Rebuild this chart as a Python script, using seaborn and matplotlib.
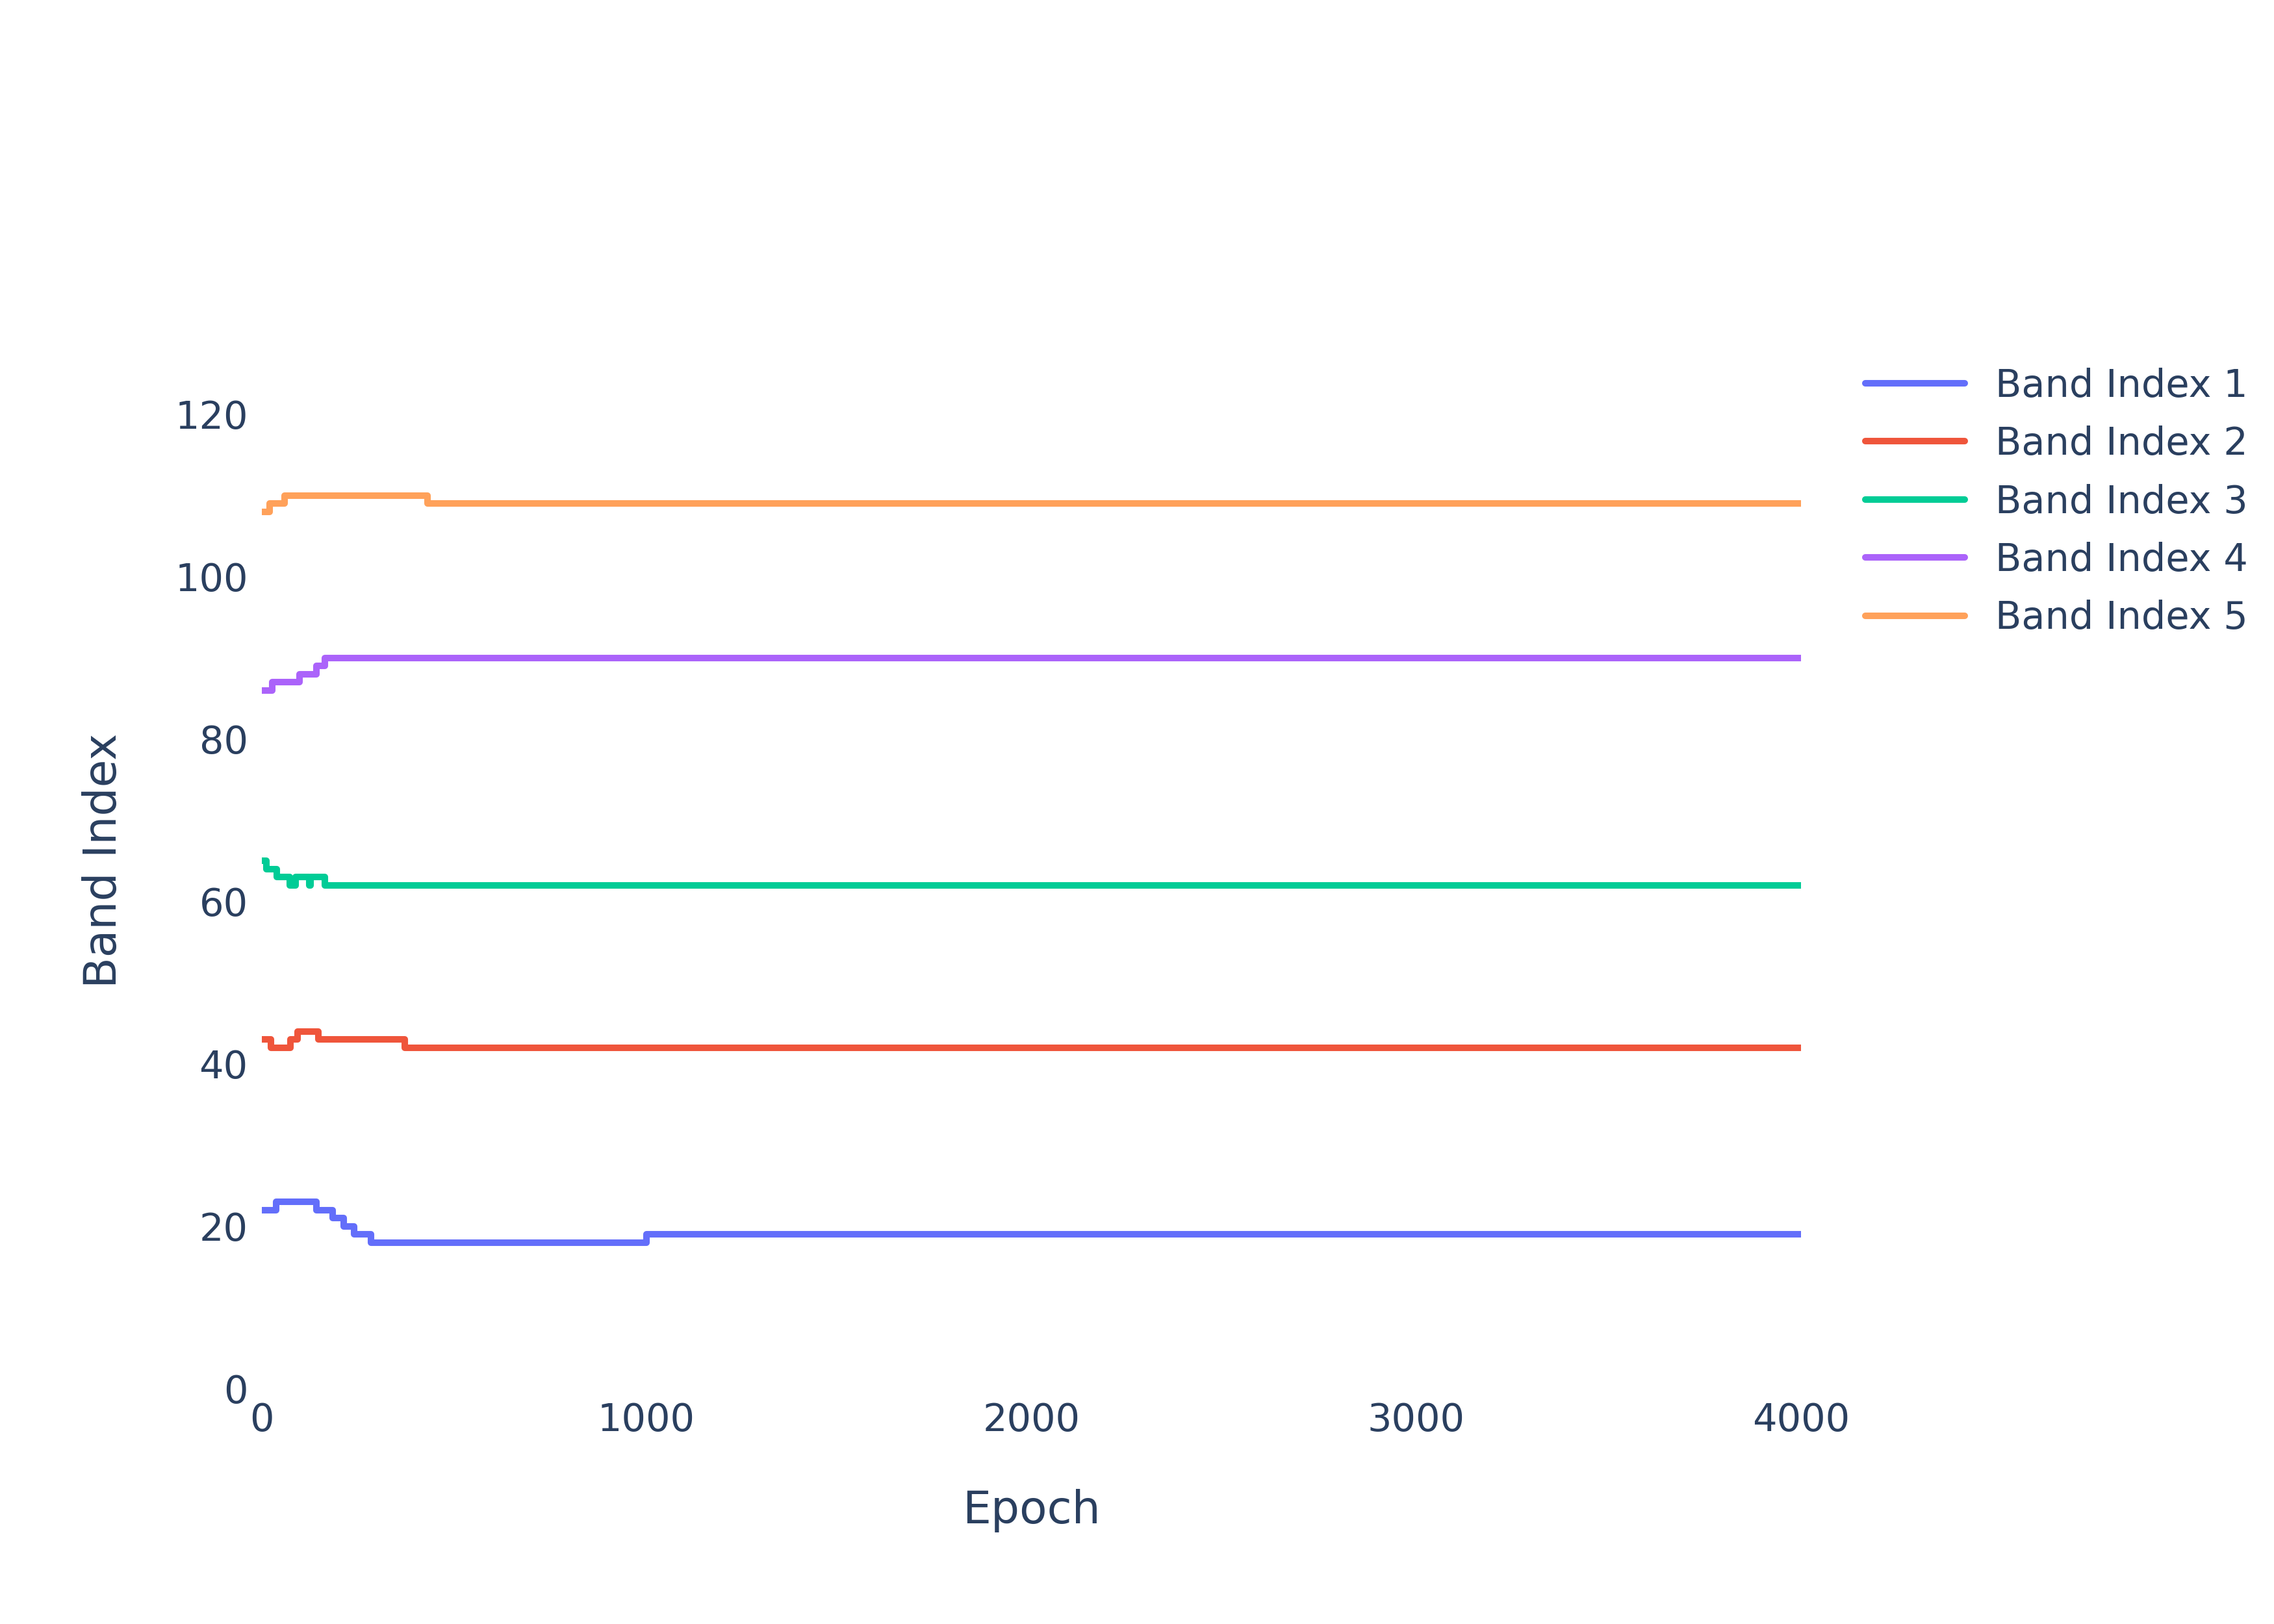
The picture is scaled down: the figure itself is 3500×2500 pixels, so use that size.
import pandas as pd
import matplotlib.pyplot as plt
import seaborn as sns

# step change points (epoch where value starts) and values
epochs_1 = [0, 38, 143, 185, 213, 241, 284, 1000, 4000]
values_1 = [22, 23, 22, 21, 20, 19, 18, 19, 19]
epochs_2 = [0, 25, 75, 94, 147, 372, 4000]
values_2 = [43, 42, 43, 44, 43, 42, 42]
epochs_3 = [0, 13, 40, 74, 88, 124, 128, 164, 4000]
values_3 = [65, 64, 63, 62, 63, 62, 63, 62, 62]
epochs_4 = [0, 28, 99, 143, 164, 4000]
values_4 = [86, 87, 88, 89, 90, 90]
epochs_5 = [0, 21, 60, 431, 4000]
values_5 = [108, 109, 110, 109, 109]

series = [epochs_1, epochs_2, epochs_3, epochs_4, epochs_5]
vals = [values_1, values_2, values_3, values_4, values_5]
names = [f'Band Index {i}' for i in range(1, 6)]
colors = ['#636efa', '#ef553b', '#00cc96', '#ab63fa', '#ffa15a']

frames = []
for n, e, v in zip(names, series, vals):
    frames.append(pd.DataFrame({'Epoch': e, 'Band Index': v, 'band': n}))
df = pd.concat(frames, ignore_index=True)

sns.set_theme(style="white")
plt.rcParams['font.family'] = ['DejaVu Sans']
text_c = '#2a3f5f'

fig = plt.figure(figsize=(14, 10), dpi=250)
ax = fig.add_axes([0.115, 0.145, 0.677, 0.65])
sns.lineplot(data=df, x='Epoch', y='Band Index', hue='band', palette=colors,
             estimator=None, drawstyle='steps-post', linewidth=2.9, ax=ax, legend=False)

ax.set_xlim(0, 4000)
ax.set_ylim(0, 130)
ax.set_xticks([0, 1000, 2000, 3000, 4000])
ax.set_yticks([0, 20, 40, 60, 80, 100, 120])
for s in ax.spines.values():
    s.set_visible(False)
ax.tick_params(axis='both', length=0, labelsize=17, labelcolor=text_c, pad=6)
ax.set_xlabel('Epoch', fontsize=20, color=text_c, labelpad=22)
ax.set_ylabel('Band Index', fontsize=20, color=text_c, labelpad=22)

handles = [plt.Line2D([0], [0], color=c, lw=2.9) for c in colors]
fig.legend(handles, names, loc='upper left', bbox_to_anchor=(0.805, 0.795),
           frameon=False, fontsize=17, labelcolor=text_c, handlelength=2.6,
           labelspacing=0.55)

fig.savefig('out.png', dpi=250)
